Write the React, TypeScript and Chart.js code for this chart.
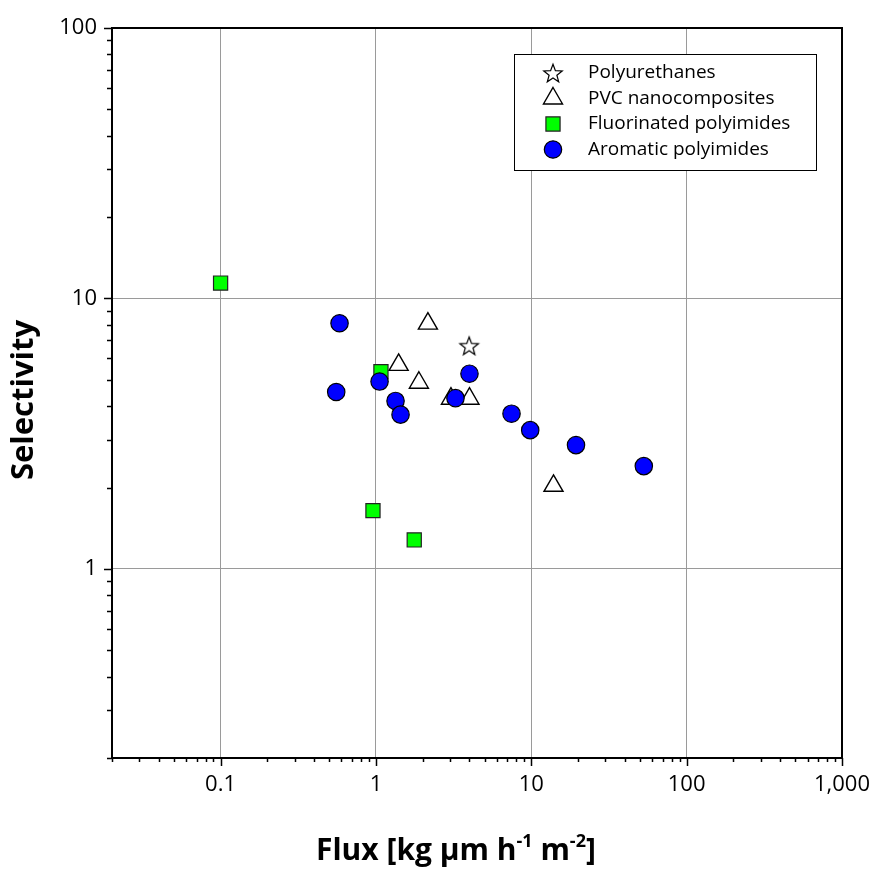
import React, { useEffect, useRef } from 'react';
import { Chart, registerables } from 'chart.js';
import { drawPoint } from 'chart.js/helpers';

Chart.register(...registerables);

// ---------- data ----------
const SERIES_NAMES = ['Polyurethanes', 'PVC nanocomposites', 'Fluorinated polyimides', 'Aromatic polyimides'];

const POLYURETHANE_FLUX = [3.98];
const POLYURETHANE_SEL = [6.69];

const PVC_FLUX = [2.16, 1.4, 1.89, 3.04, 4.0, 13.9];
const PVC_SEL = [8.07, 5.68, 4.88, 4.26, 4.26, 2.03];

const FLUORO_FLUX = [0.1, 1.077, 0.957, 1.764];
const FLUORO_SEL = [11.4, 5.36, 1.643, 1.28];

const AROMATIC_FLUX = [0.583, 0.555, 1.055, 1.337, 1.44, 3.25, 4.0, 7.46, 9.84, 19.4, 53.0];
const AROMATIC_SEL = [8.1, 4.51, 4.93, 4.18, 3.72, 4.28, 5.27, 3.75, 3.26, 2.87, 2.4];

const X_MAJOR = [0.1, 1, 10, 100, 1000];
const X_LABELS = ['0.1', '1', '10', '100', '1,000'];
const Y_MAJOR = [1, 10, 100];
const Y_LABELS = ['1', '10', '100'];
const X_MIN = 0.02;
const X_MAX = 1000;
const Y_MIN = 0.2;
const Y_MAX = 100;

const Y_TITLE = 'Selectivity';
const X_TITLE_PARTS = [
  { text: 'Flux [kg µm h', sup: false },
  { text: '-1', sup: true },
  { text: ' m', sup: false },
  { text: '-2', sup: true },
  { text: ']', sup: false },
];

// ---------- styles ----------
const W = 875;
const H = 870;
const FONT = "'Open Sans', 'DejaVu Sans', sans-serif";
const GRID = '#9a9a9a';

function isMajor(v: number | undefined) {
  if (v === undefined || v === null || v <= 0) return false;
  const l = Math.log10(v);
  return Math.abs(l - Math.round(l)) < 1e-6;
}

function logTicks(min: number, max: number) {
  const out: number[] = [];
  for (let e = Math.floor(Math.log10(min)); e <= Math.ceil(Math.log10(max)); e++) {
    for (let m = 1; m <= 9; m++) {
      const v = parseFloat((m * Math.pow(10, e)).toPrecision(8));
      if (v >= min * 0.99999 && v <= max * 1.00001) out.push(v);
    }
  }
  return out;
}

function labelFor(majors: number[], labels: string[], value: number) {
  const i = majors.findIndex((m) => Math.abs(m - value) / m < 1e-6);
  return i >= 0 ? labels[i] : '';
}

function makeStar(R: number) {
  const size = Math.ceil(2 * R + 4);
  const c = document.createElement('canvas');
  c.width = size;
  c.height = size;
  const g = c.getContext('2d')!;
  const cx = size / 2;
  const cy = size / 2 + 0.095 * R;
  const r = R * 0.42;
  g.beginPath();
  for (let i = 0; i < 10; i++) {
    const rad = i % 2 === 0 ? R : r;
    const a = -Math.PI / 2 + (i * Math.PI) / 5;
    const x = cx + rad * Math.cos(a);
    const y = cy + rad * Math.sin(a);
    if (i === 0) g.moveTo(x, y);
    else g.lineTo(x, y);
  }
  g.closePath();
  g.fillStyle = '#ffffff';
  g.fill();
  g.strokeStyle = '#000000';
  g.lineWidth = 1.2;
  g.stroke();
  return c;
}

const toPoints = (xs: number[], ys: number[]) => xs.map((x, i) => ({ x, y: ys[i] }));

const decorPlugin = {
  id: 'decor',
  afterDraw(chart: any) {
    const ctx = chart.ctx as CanvasRenderingContext2D;
    const { left, right, top, bottom } = chart.chartArea;
    const xs = chart.scales.x;
    const ys = chart.scales.y;
    ctx.save();
    // frame
    ctx.strokeStyle = '#000';
    ctx.lineWidth = 2;
    ctx.strokeRect(left, top, right - left, bottom - top);
    // tick marks
    ctx.lineWidth = 1.5;
    ctx.beginPath();
    for (const t of xs.ticks) {
      const px = Math.round(xs.getPixelForValue(t.value)) + 0.5;
      const len = isMajor(t.value) ? 8 : 4;
      ctx.moveTo(px, bottom);
      ctx.lineTo(px, bottom + len);
    }
    for (const t of ys.ticks) {
      const py = Math.round(ys.getPixelForValue(t.value)) + 0.5;
      const len = isMajor(t.value) ? 8 : 5;
      ctx.moveTo(left, py);
      ctx.lineTo(left - len, py);
    }
    ctx.stroke();

    // legend
    const bx = 514, by = 54, bw = 302, bh = 116;
    ctx.fillStyle = '#fff';
    ctx.fillRect(bx, by, bw, bh);
    ctx.strokeStyle = '#000';
    ctx.lineWidth = 1;
    ctx.strokeRect(bx + 0.5, by + 0.5, bw, bh);
    chart.data.datasets.forEach((ds: any, i: number) => {
      const y = 73 + i * 25.5;
      ctx.save();
      ctx.fillStyle = ds.backgroundColor;
      ctx.strokeStyle = ds.borderColor;
      ctx.lineWidth = ds.borderWidth;
      drawPoint(ctx, { pointStyle: ds.pointStyle, rotation: 0, radius: ds.pointRadius, borderWidth: ds.borderWidth } as any, 553, y);
      ctx.restore();
      ctx.fillStyle = '#000';
      ctx.font = `19px ${FONT}`;
      ctx.textAlign = 'left';
      ctx.textBaseline = 'middle';
      ctx.fillText(ds.label, 588, y);
    });

    // y title
    ctx.save();
    ctx.translate(33, 400);
    ctx.rotate(-Math.PI / 2);
    ctx.font = `bold 31px ${FONT}`;
    ctx.fillStyle = '#000';
    ctx.textAlign = 'center';
    ctx.textBaseline = 'alphabetic';
    ctx.fillText(Y_TITLE, 0, 0);
    ctx.restore();

    // x title with superscripts
    let x = 316;
    const base = 860;
    ctx.fillStyle = '#000';
    ctx.textAlign = 'left';
    ctx.textBaseline = 'alphabetic';
    for (const p of X_TITLE_PARTS) {
      ctx.font = p.sup ? `bold 18px ${FONT}` : `bold 30px ${FONT}`;
      ctx.fillText(p.text, x, p.sup ? base - 13 : base);
      x += ctx.measureText(p.text).width;
    }
    ctx.restore();
  },
};

export default function App() {
  const ref = useRef<HTMLCanvasElement | null>(null);

  useEffect(() => {
    document.body.style.margin = '0';
    document.body.style.overflow = 'hidden';
    const canvas = ref.current;
    if (!canvas) return;
    const star = makeStar(9.7);

    const chart = new Chart(canvas, {
      type: 'scatter',
      data: {
        datasets: [
          {
            label: SERIES_NAMES[0],
            data: toPoints(POLYURETHANE_FLUX, POLYURETHANE_SEL),
            pointStyle: star as any,
            pointRadius: 10,
            backgroundColor: '#ffffff',
            borderColor: '#000000',
            borderWidth: 1.2,
            order: 3,
          },
          {
            label: SERIES_NAMES[1],
            data: toPoints(PVC_FLUX, PVC_SEL),
            pointStyle: 'triangle',
            pointRadius: 11,
            backgroundColor: '#ffffff',
            borderColor: '#000000',
            borderWidth: 1.4,
            order: 2,
          },
          {
            label: SERIES_NAMES[2],
            data: toPoints(FLUORO_FLUX, FLUORO_SEL),
            pointStyle: 'rect',
            pointRadius: 10,
            backgroundColor: '#00ff00',
            borderColor: '#222222',
            borderWidth: 1.2,
            order: 1,
          },
          {
            label: SERIES_NAMES[3],
            data: toPoints(AROMATIC_FLUX, AROMATIC_SEL),
            pointStyle: 'circle',
            pointRadius: 8.7,
            backgroundColor: '#0000ff',
            borderColor: '#000000',
            borderWidth: 1.2,
            order: 0,
          },
        ] as any,
      },
      options: {
        responsive: false,
        animation: false,
        devicePixelRatio: 1,
        events: [],
        layout: { padding: { top: 28, right: 33, left: 0, bottom: 0 } },
        plugins: {
          legend: { display: false },
          tooltip: { enabled: false },
          title: { display: false },
        },
        scales: {
          x: {
            type: 'logarithmic',
            position: 'bottom',
            min: X_MIN,
            max: X_MAX,
            afterBuildTicks: (s: any) => {
              s.ticks = logTicks(X_MIN, X_MAX).map((v) => ({ value: v }));
            },
            afterFit: (s: any) => {
              s.height = 112;
              s.paddingLeft = 0;
              s.paddingRight = 0;
            },
            border: { display: false },
            grid: {
              drawTicks: false,
              lineWidth: 1,
              color: (c: any) => (isMajor(c.tick?.value) ? GRID : 'rgba(0,0,0,0)'),
            },
            ticks: {
              autoSkip: false,
              maxRotation: 0,
              minRotation: 0,
              padding: 14,
              color: '#000',
              font: { family: FONT, size: 22 },
              callback: (v: any) => labelFor(X_MAJOR, X_LABELS, Number(v)),
            },
          },
          y: {
            type: 'logarithmic',
            position: 'left',
            min: Y_MIN,
            max: Y_MAX,
            afterBuildTicks: (s: any) => {
              s.ticks = logTicks(Y_MIN, Y_MAX).map((v) => ({ value: v }));
            },
            afterFit: (s: any) => {
              s.width = 112;
              s.paddingTop = 0;
              s.paddingBottom = 0;
            },
            border: { display: false },
            grid: {
              drawTicks: false,
              lineWidth: 1,
              color: (c: any) => (isMajor(c.tick?.value) ? GRID : 'rgba(0,0,0,0)'),
            },
            ticks: {
              autoSkip: false,
              padding: 15,
              color: '#000',
              font: { family: FONT, size: 22 },
              callback: (v: any) => labelFor(Y_MAJOR, Y_LABELS, Number(v)),
            },
          },
        },
      } as any,
      plugins: [decorPlugin],
    });

    return () => chart.destroy();
  }, []);

  return (
    <div style={{ width: W, height: H, overflow: 'hidden', background: '#fff' }}>
      <canvas ref={ref} width={W} height={H} style={{ display: 'block', width: W, height: H }} />
    </div>
  );
}
